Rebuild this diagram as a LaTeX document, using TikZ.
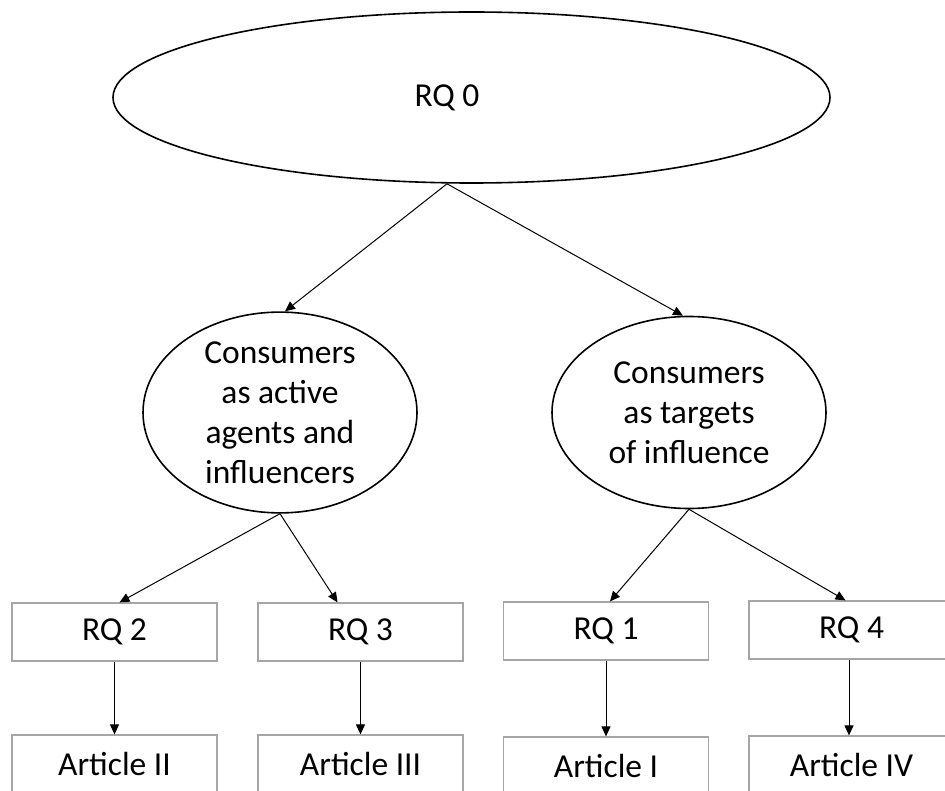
\documentclass[tikz,border=0pt]{standalone}
\usepackage{fontspec}
\setmainfont{Carlito}
\usetikzlibrary{shapes.geometric,arrows.meta,calc}

\tikzset{
  oval/.style={draw=black, line width=1.6pt, ellipse, inner sep=0pt},
  rqbox/.style={draw=gray!70, line width=1.2pt, rectangle, minimum width=205pt,
                minimum height=58pt, inner sep=0pt},
  lbl/.style={font=\fontsize{33.5}{40}\selectfont, align=center, inner sep=0pt},
  arr/.style={draw=black, line width=1pt,
              -{Triangle[length=10pt,width=9pt]}}
}

\begin{document}
\begin{tikzpicture}[x=1pt, y=-1pt]
  \useasboundingbox (0,0) rectangle (945,791);
  \clip (0,0) rectangle (945,791);

  % top research question
  \node[oval, minimum width=717pt, minimum height=171pt] (top) at (471.5,97.5) {};
  \node[lbl] (rq0) at (447,98) {RQ 0};

  % the two perspectives
  \node[oval, minimum width=274pt, minimum height=192pt, lbl] (left) at (280,412.5)
    {Consumers\\as active\\agents and\\influencers};
  \node[oval, minimum width=274pt, minimum height=192pt, lbl] (right) at (689,412.5)
    {Consumers\\as targets\\of influence};

  % research questions
  \node[rqbox, lbl] (rq2) at (114.5,632) {RQ 2};
  \node[rqbox, lbl] (rq3) at (360.5,632) {RQ 3};
  \node[rqbox, lbl] (rq1) at (606,631) {RQ 1};
  \node[rqbox, lbl] (rq4) at (851.5,630) {RQ 4};

  % articles
  \node[rqbox, lbl] (a2) at (114.5,764) {Article II};
  \node[rqbox, lbl] (a3) at (360.5,764) {Article III};
  \node[rqbox, lbl] (a1) at (606,766) {Article I};
  \node[rqbox, lbl] (a4) at (851.5,765) {Article IV};

  % connectors
  \coordinate (apex) at ($(top.south)+(-24.5,0)$);
  \draw[arr] (apex) -- ($(left.north)+(5,0)$);
  \draw[arr] (apex) -- ($(right.north)+(-6,0)$);

  \draw[arr] (left.south) -- ($(rq2.north)+(5,0)$);
  \draw[arr] (left.south) -- ($(rq3.north)+(-23,0)$);
  \draw[arr] (right.south) -- ($(rq1.north)+(4,0)$);
  \draw[arr] (right.south) -- ($(rq4.north)+(-6,0)$);

  \draw[arr] (rq2.south) -- (a2.north);
  \draw[arr] (rq3.south) -- (a3.north);
  \draw[arr] (rq1.south) -- (a1.north);
  \draw[arr] ($(rq4.south)+(-2.5,0)$) -- ($(a4.north)+(-2.5,0)$);
\end{tikzpicture}
\end{document}
